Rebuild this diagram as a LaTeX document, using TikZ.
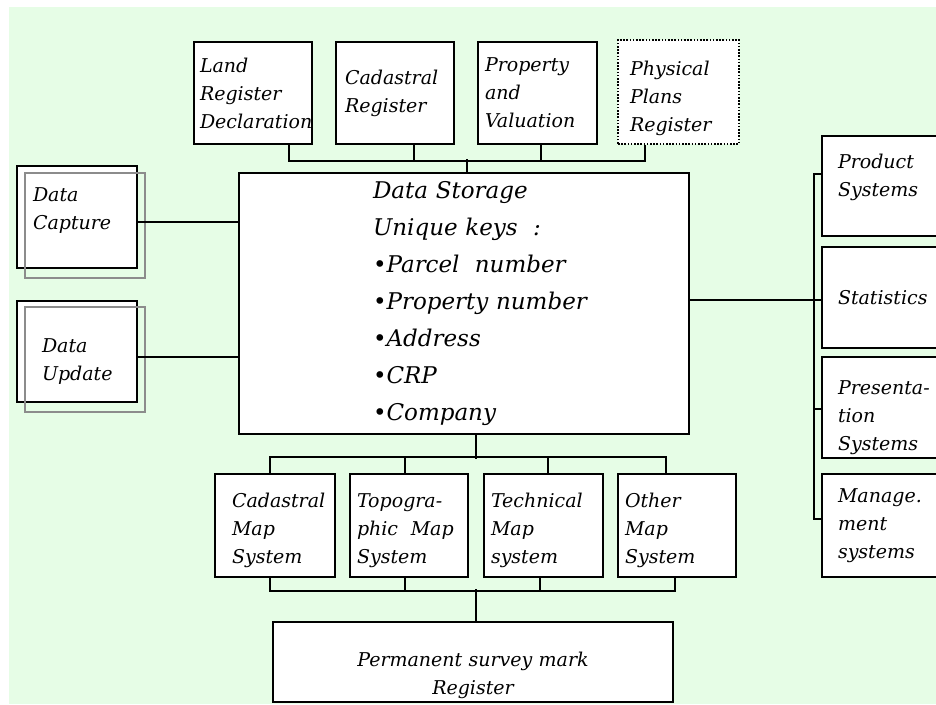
\documentclass[tikz,border=0pt]{standalone}
\usepackage{fontspec}
\setmainfont{DejaVu Serif}
\usetikzlibrary{positioning}
\definecolor{mint50}{HTML}{E6FDE6}
\definecolor{gray500}{HTML}{8C8C8C}
\tikzset{
  every node/.style={font=\itshape\fontsize{19}{28}\selectfont},
  box/.style={
    rectangle, draw=black, fill=white, line width=1.8pt,
    align=left, inner ysep=0pt
  },
  keybox/.style={box, font=\itshape\fontsize{23}{37}\selectfont},
  planbox/.style={box, line width=1.6pt, dash pattern=on 1.6pt off 1.6pt},
  shadow/.style={draw=gray500, line width=1.4pt},
  link/.style={draw=black, line width=1.8pt},
}

\begin{document}
\begin{tikzpicture}[x=1pt,y=-1pt]
  \useasboundingbox[fill=white] (0,0) rectangle (936,704);
  \fill[mint50] (9,7) rectangle (936,704);

  % registers on top
  \node[box, minimum height=102pt, text width=106pt, inner xsep=6pt] (land) at (253,93) {Land\\Register\\Declaration};
  \node[box, minimum height=102pt, text width=100pt, inner xsep=9pt] (cadreg) at (395,93) {Cadastral\\Register};
  \node[box, minimum height=102pt, text width=105pt, inner xsep=7pt] (propval) at (537.5,93) {Property\\and\\Valuation};
  \node[planbox, minimum height=104pt, text width=97pt, inner xsep=12pt] (phys) at (678.5,92) {\rule{0pt}{28pt}Physical\\Plans\\Register};

  % central storage
  \node[keybox, minimum height=261pt, text width=182pt, inner xsep=134pt] (store) at (464,303.5)
    {\mbox{Data Storage}\\\mbox{Unique keys~~:}\\\mbox{\textbullet Parcel~~number}\\\mbox{\textbullet Property number}\\\mbox{\textbullet Address}\\\mbox{\textbullet CRP}\\\mbox{\textbullet Company}};

  % input side
  \node[box, minimum height=102pt, text width=88pt, inner xsep=16pt] (capture) at (77,217) {Data\\Capture\rule[-17pt]{0pt}{0pt}};
  \node[box, minimum height=101pt, text width=70pt, inner xsep=25pt] (update) at (77,351.5) {\rule{0pt}{33pt}Data\\Update};
  \draw[shadow] ([xshift=9pt,yshift=-8pt]capture.north west) rectangle ([xshift=7pt,yshift=-9pt]capture.south east);
  \draw[shadow] ([xshift=9pt,yshift=-7pt]update.north west) rectangle ([xshift=7pt,yshift=-9pt]update.south east);

  % output side
  \node[box, minimum height=100pt, text width=96pt, inner xsep=16pt] (prod) at (886,186) {Product\\Systems\rule[-22pt]{0pt}{0pt}};
  \node[box, minimum height=101pt, text width=96pt, inner xsep=16pt] (stat) at (886,297.5) {Statistics};
  \node[box, minimum height=101pt, text width=96pt, inner xsep=16pt] (pres) at (886,407.5) {\rule{0pt}{34pt}Presenta-\\tion\\Systems};
  \node[box, minimum height=103pt, text width=96pt, inner xsep=16pt] (mgmt) at (886,525.5) {Manage.\\ment\\systems};

  % map systems
  \node[box, minimum height=103pt, text width=86pt, inner xsep=17pt] (cmap) at (275,525.5) {\rule{0pt}{25pt}Cadastral\\Map\\System};
  \node[box, minimum height=103pt, text width=104pt, inner xsep=7pt] (topo) at (409,525.5) {\rule{0pt}{25pt}Topogra-\\phic~~Map\\System};
  \node[box, minimum height=103pt, text width=105pt, inner xsep=7pt] (tech) at (543.5,525.5) {\rule{0pt}{25pt}Technical\\Map\\system};
  \node[box, minimum height=103pt, text width=104pt, inner xsep=7pt] (omap) at (677,525.5) {\rule{0pt}{25pt}Other\\Map\\System};
  \node[box, align=center, minimum height=80pt, text width=380pt, inner xsep=10pt] (perm) at (473,662) {\rule{0pt}{42pt}Permanent survey mark\\Register};

  % connectors
  \draw[link] ([xshift=36pt]land.south) -- ++(0,16) -| ([xshift=-33.5pt]phys.south);
  \draw[link] ([xshift=19pt]cadreg.south) -- ++(0,16);
  \draw[link] ([xshift=3.5pt]propval.south) -- ++(0,16);
  \draw[link] ([xshift=3pt]store.north) -- ++(0,-13);
  \draw[link] ([yshift=-5pt]capture.east) -- ([yshift=-5pt]capture.east -| store.west);
  \draw[link] ([yshift=-5.5pt]update.east) -- ([yshift=-5.5pt]update.east -| store.west);
  \draw[link] ([yshift=-2.5pt]stat.west) -- ([yshift=-2.5pt]stat.west -| store.east);
  \draw[link] ([yshift=12pt]prod.west) -- ++(-7,0) |- ([yshift=6.5pt]mgmt.west);
  \draw[link] ([yshift=-1.5pt]pres.west) -- ++(-7,0);
  \draw[link] ([xshift=12pt]store.south) -- ++(0,24);
  \draw[link] ([xshift=-5pt]cmap.north) -- ++(0,-16) -| ([xshift=-11pt]omap.north);
  \draw[link] ([xshift=-4pt]topo.north) -- ++(0,-16);
  \draw[link] ([xshift=4.5pt]tech.north) -- ++(0,-16);
  \draw[link] ([xshift=-5pt]cmap.south) -- ++(0,13) -| ([xshift=-2pt]omap.south);
  \draw[link] ([xshift=-4pt]topo.south) -- ++(0,13);
  \draw[link] ([xshift=-3.5pt]tech.south) -- ++(0,13);
  \draw[link] ([xshift=3pt]perm.north) -- ++(0,-32);
\end{tikzpicture}
\end{document}
